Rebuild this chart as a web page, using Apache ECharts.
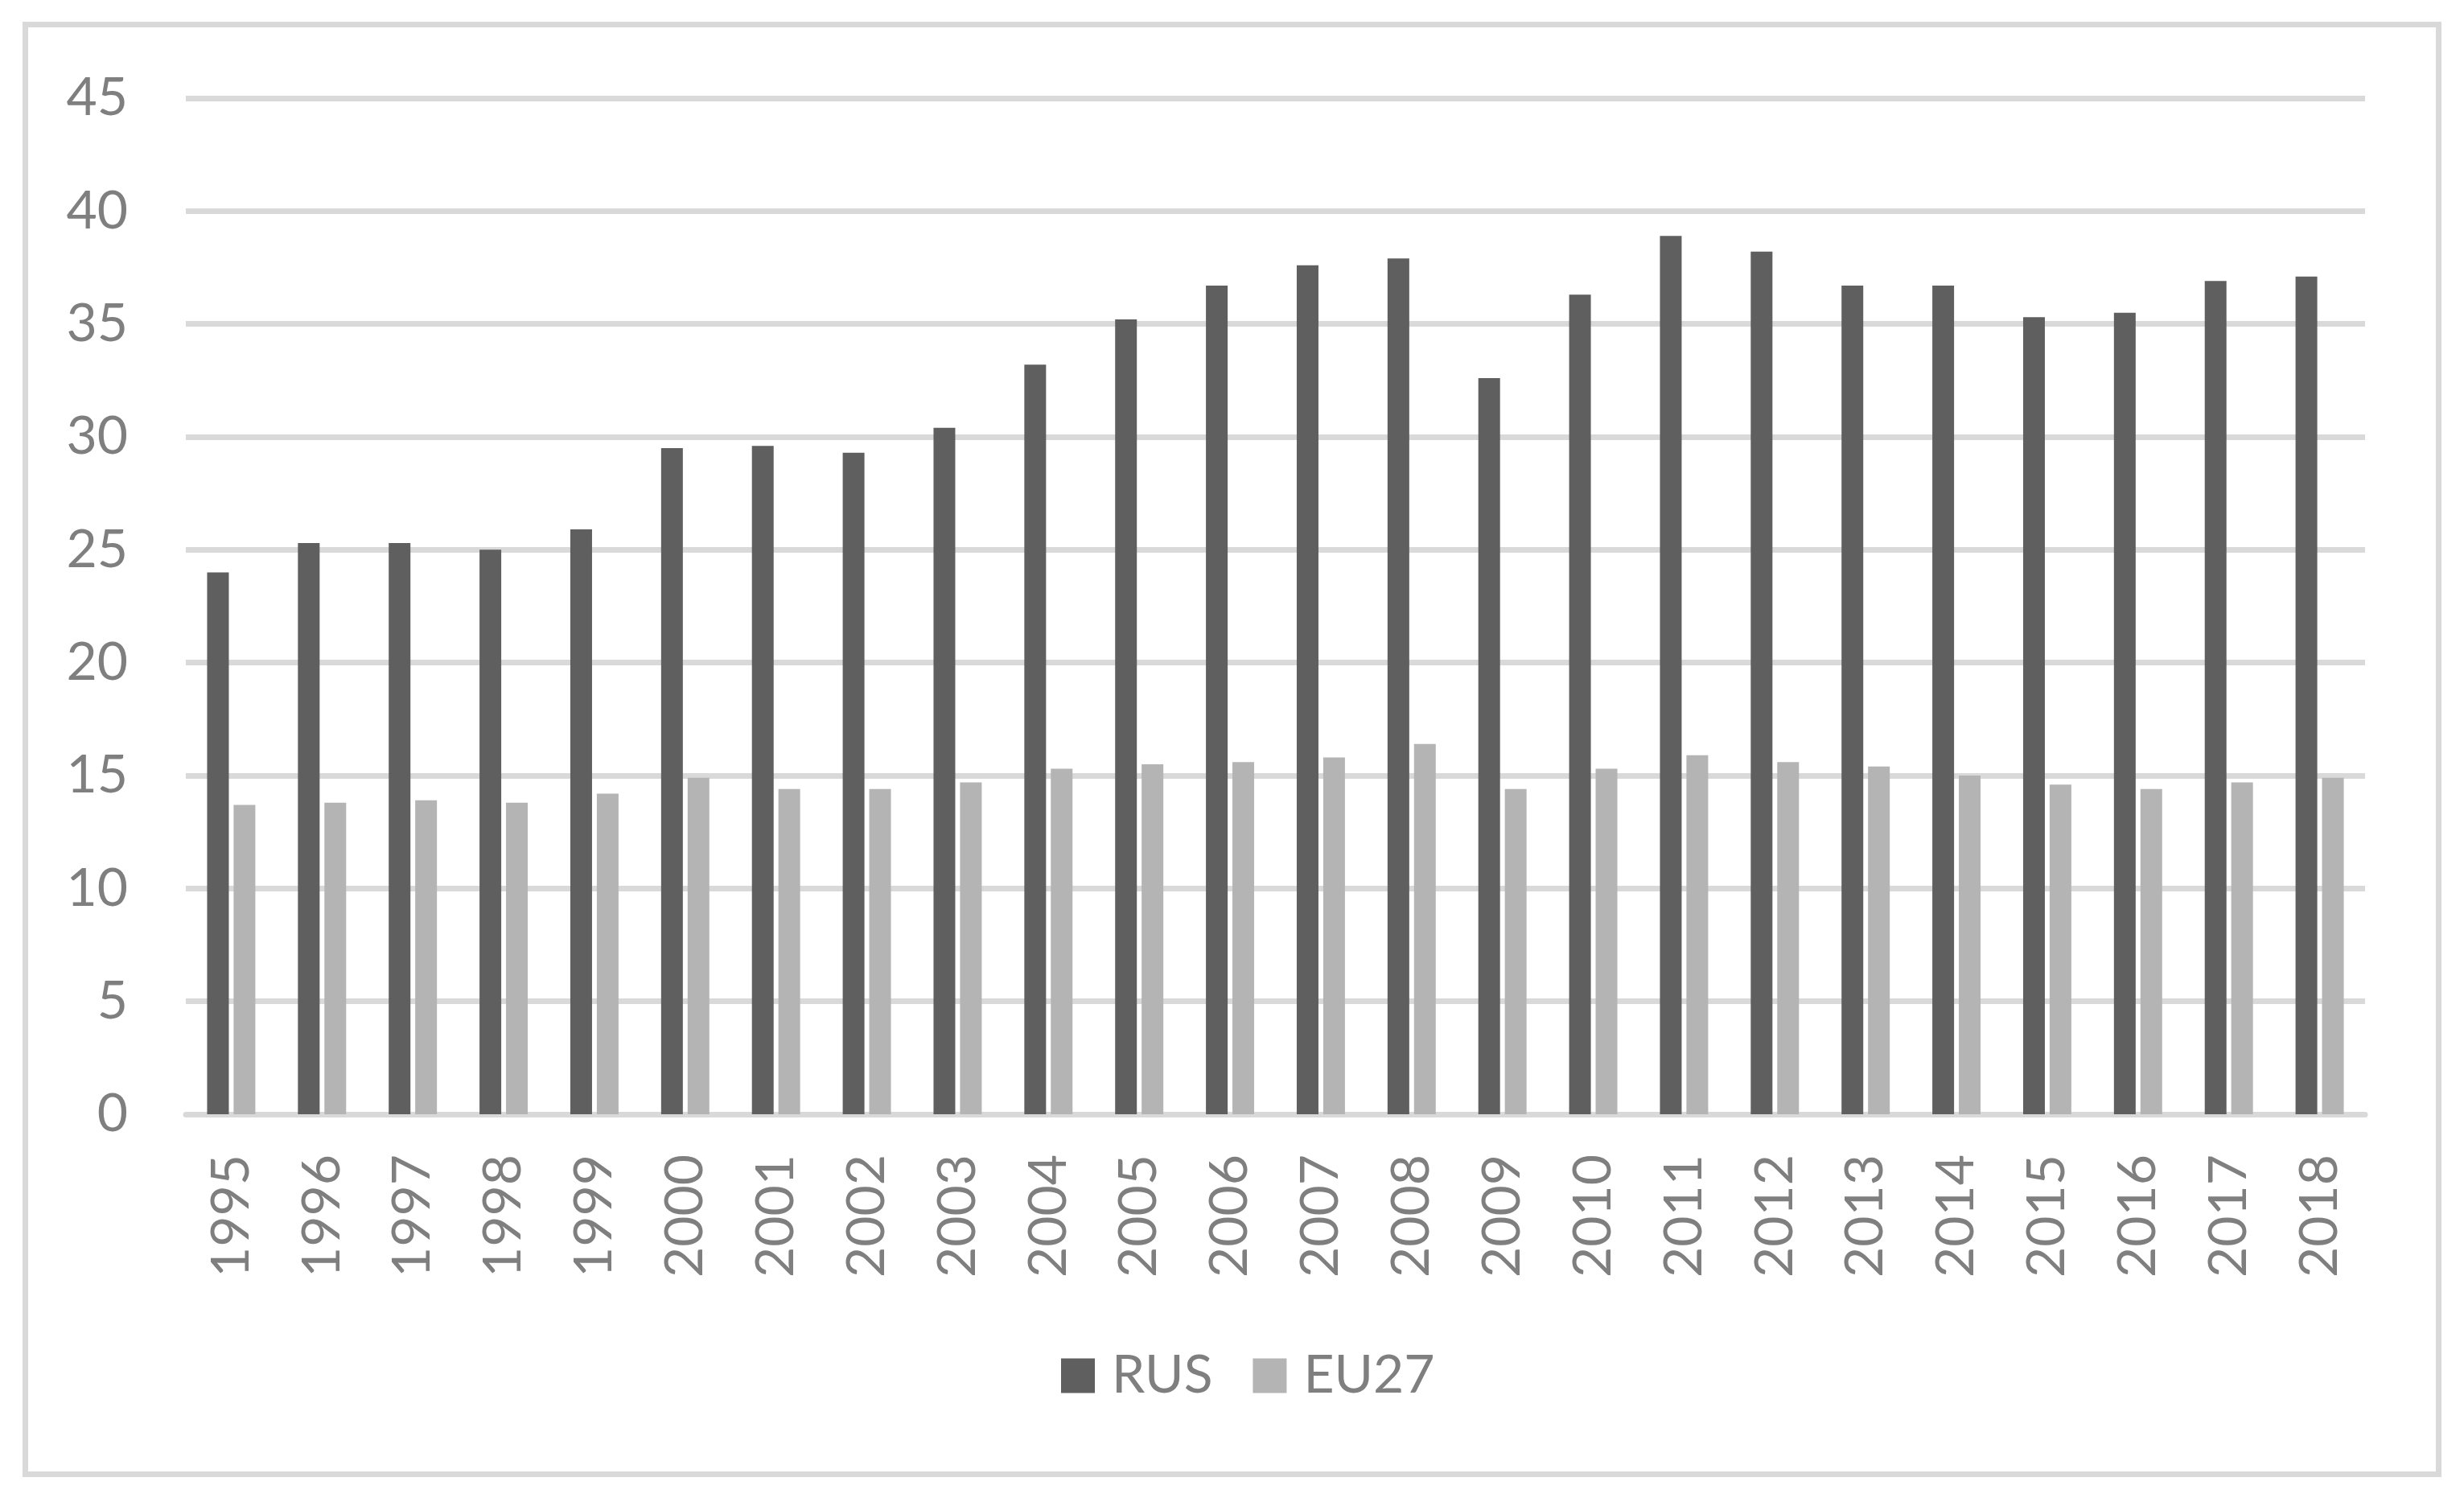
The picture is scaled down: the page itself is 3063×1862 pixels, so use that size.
<!DOCTYPE html>
<html>
<head>
<meta charset="utf-8">
<script src="https://cdn.jsdelivr.net/npm/echarts@6/dist/echarts.min.js"></script>
<style>
    html, body { margin: 0; padding: 0; background: #fff; }
    #chart { width: 3063px; height: 1862px; }
</style>
</head>
<body>
<div id="chart"></div>
<script>
var years = ['1995', '1996', '1997', '1998', '1999', '2000', '2001', '2002', '2003', '2004', '2005', '2006',
    '2007', '2008', '2009', '2010', '2011', '2012', '2013', '2014', '2015', '2016', '2017', '2018'];
var rusValues = [24.0, 25.3, 25.3, 25.0, 25.9, 29.5, 29.6, 29.3, 30.4, 33.2, 35.2, 36.7,
    37.6, 37.9, 32.6, 36.3, 38.9, 38.2, 36.7, 36.7, 35.3, 35.5, 36.9, 37.1];
var eu27Values = [13.7, 13.8, 13.9, 13.8, 14.2, 14.9, 14.4, 14.4, 14.7, 15.3, 15.5, 15.6,
    15.8, 16.4, 14.4, 15.3, 15.9, 15.6, 15.4, 15.0, 14.6, 14.4, 14.7, 14.9];
var seriesNames = ['RUS', 'EU27'];

var FONT = 'Lato';
var TEXT_COLOR = '#7f7f7f';
var GRID_COLOR = '#d9d9d9';

var myChart = echarts.init(document.getElementById('chart'));

var option = {
    backgroundColor: '#ffffff',
    animation: false,
    textStyle: {
        fontFamily: FONT
    },
    graphic: [{
        // outer chart frame
        type: 'rect',
        shape: { x: 31.5, y: 30.5, width: 3000, height: 1802 },
        style: { fill: null, stroke: GRID_COLOR, lineWidth: 7 },
        z: -1
    }],
    grid: {
        left: 231,
        right: 123,
        top: 122,
        bottom: 477
    },
    legend: {
        data: seriesNames,
        left: 1319,
        top: 1677,
        padding: 0,
        itemWidth: 42,
        itemHeight: 43,
        itemGap: 50,
        icon: 'rect',
        textStyle: {
            fontFamily: FONT,
            fontSize: 66,
            lineHeight: 43,
            color: TEXT_COLOR,
            padding: [0, 0, 0, 16]
        }
    },
    xAxis: {
        type: 'category',
        data: years,
        axisLine: {
            show: true,
            lineStyle: { color: GRID_COLOR, width: 7 }
        },
        axisTick: { show: false },
        axisLabel: {
            rotate: 90,
            interval: 0,
            margin: 50,
            fontFamily: FONT,
            fontSize: 66,
            color: TEXT_COLOR
        }
    },
    yAxis: {
        type: 'value',
        min: 0,
        max: 45,
        interval: 5,
        axisLine: { show: false },
        axisTick: { show: false },
        splitLine: {
            lineStyle: { color: GRID_COLOR, width: 7 }
        },
        axisLabel: {
            margin: 72,
            fontFamily: FONT,
            fontSize: 66,
            color: TEXT_COLOR
        }
    },
    series: [{
            name: seriesNames[0],
            type: 'bar',
            data: rusValues,
            barWidth: 27,
            barGap: '22%',
            itemStyle: { color: '#5f5f5f' }
        },
        {
            name: seriesNames[1],
            type: 'bar',
            data: eu27Values,
            barWidth: 27,
            barGap: '22%',
            itemStyle: { color: '#b4b4b4' }
        }
    ]
};
myChart.setOption(option);
</script>
</body>
</html>
